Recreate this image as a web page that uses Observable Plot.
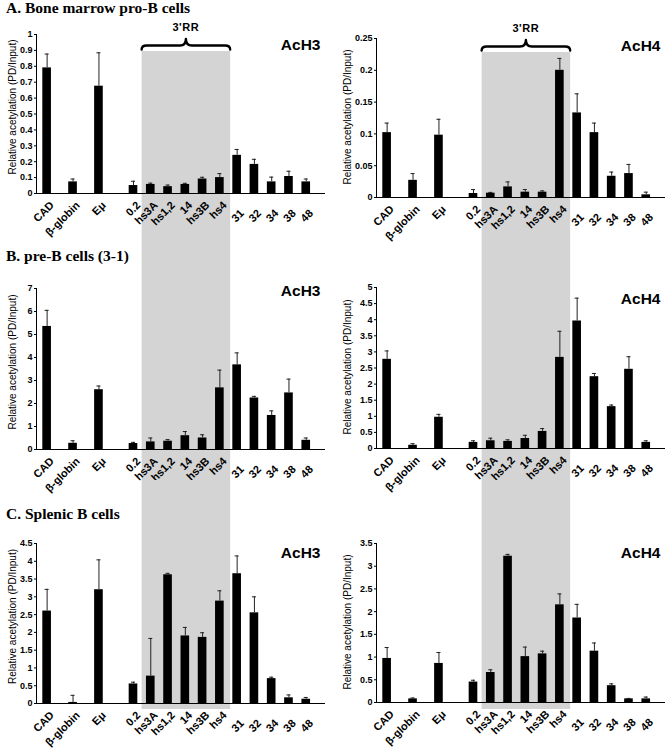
<!DOCTYPE html>
<html>
<head>
<meta charset="utf-8">
<script src="https://cdn.jsdelivr.net/npm/d3@7"></script>
<script src="https://cdn.jsdelivr.net/npm/@observablehq/plot@0.6"></script>
<style>
  body { margin: 0; background: #fff; }
  #fig { position: relative; width: 665px; height: 751px; overflow: hidden; background: #fff; }
  .panel { position: absolute; }
  .title { position: absolute; left: 6px; font: bold 15.5px "Liberation Serif", "Times New Roman", serif; line-height: 1; white-space: nowrap; color: #000; }
</style>
</head>
<body>
<div id="fig"></div>
<script>
// ---------------- data ----------------
const sites = ["CAD", "β-globin", "Eμ", "0.2", "hs3A", "hs1,2", "14", "hs3B", "hs4", "31", "32", "34", "38", "48"];
const rowTitles = ["A. Bone marrow pro-B cells", "B. pre-B cells (3-1)", "C. Splenic B cells"];
const histones = ["AcH3", "AcH4"];
const regionLabel = "3'RR";
const yLabel = "Relative acetylation (PD/Input)";

// bar values and upper ends of the error bars
const proB_AcH3     = [0.79, 0.073, 0.675, 0.05, 0.057, 0.043, 0.057, 0.091, 0.10, 0.24, 0.183, 0.073, 0.107, 0.073];
const proB_AcH3_err = [0.877, 0.091, 0.885, 0.077, 0.065, 0.053, 0.064, 0.102, 0.125, 0.277, 0.215, 0.103, 0.14, 0.091];
const proB_AcH4     = [0.102, 0.027, 0.098, 0.0063, 0.0068, 0.0167, 0.0084, 0.0084, 0.200, 0.133, 0.102, 0.0334, 0.0376, 0.0042];
const proB_AcH4_err = [0.117, 0.0376, 0.123, 0.0125, 0.008, 0.0245, 0.0125, 0.0104, 0.2187, 0.163, 0.117, 0.040, 0.052, 0.0084];
const preB_AcH3     = [5.35, 0.27, 2.6, 0.26, 0.33, 0.36, 0.6, 0.5, 2.68, 3.68, 2.24, 1.48, 2.46, 0.4];
const preB_AcH3_err = [6.05, 0.38, 2.76, 0.31, 0.5, 0.43, 0.78, 0.64, 3.45, 4.2, 2.31, 1.68, 3.06, 0.5];
const preB_AcH4     = [2.77, 0.10, 0.97, 0.19, 0.24, 0.22, 0.31, 0.53, 2.83, 3.96, 2.23, 1.30, 2.46, 0.19];
const preB_AcH4_err = [3.03, 0.15, 1.06, 0.24, 0.32, 0.27, 0.41, 0.62, 3.64, 4.67, 2.33, 1.35, 2.85, 0.24];
const spl_AcH3      = [2.6, 0.03, 3.2, 0.55, 0.77, 3.62, 1.9, 1.86, 2.88, 3.65, 2.55, 0.7, 0.16, 0.12];
const spl_AcH3_err  = [3.21, 0.23, 4.04, 0.6, 1.83, 3.66, 2.14, 1.99, 3.17, 4.15, 3.0, 0.74, 0.24, 0.17];
const spl_AcH4      = [0.97, 0.08, 0.86, 0.45, 0.66, 3.22, 1.01, 1.07, 2.15, 1.86, 1.13, 0.37, 0.08, 0.08];
const spl_AcH4_err  = [1.21, 0.10, 1.10, 0.49, 0.72, 3.26, 1.22, 1.13, 2.39, 2.16, 1.31, 0.41, 0.09, 0.12];

// y tick labels
const ticks_proB_AcH3 = [0, 0.1, 0.2, 0.3, 0.4, 0.5, 0.6, 0.7, 0.8, 0.9, 1];
const ticks_proB_AcH4 = [0, 0.05, 0.1, 0.15, 0.2, 0.25];
const ticks_preB_AcH3 = [0, 1, 2, 3, 4, 5, 6, 7];
const ticks_preB_AcH4 = [0, 0.5, 1, 1.5, 2, 2.5, 3, 3.5, 4, 4.5, 5];
const ticks_spl_AcH3  = [0, 0.5, 1, 1.5, 2, 2.5, 3, 3.5, 4, 4.5];
const ticks_spl_AcH4  = [0, 0.5, 1, 1.5, 2, 2.5, 3, 3.5];

// ---------------- layout ----------------
const L = {
  colLeft: [0, 332], colWidth: [332, 333], marginLeft: [36, 44], marginRight: [7, 0],
  rowTop: [0, 240, 480], rowHeight: [240, 240, 271],
  marginTop: [[34, 38], [48, 47], [63, 63]],
  marginBottom: [[47, 43], [31, 32], [48, 49]],
  grayTop: [[51, 52], [0, 0], [0, 0]],
  grayBottom: [[240, 240], [240, 240], [229, 229]],
  histDy: [[15, 12], [7, 16], [14, 14]],
  yLabelDx: [-24, -29], yLabelDy: [-7, -1],
  titleTop: [0, 248, 505.5]
};
// spacer slots before each site (category axis spacing), plus one trailing
const spacersBefore = [0, 2, 2, 3, 1, 1, 1, 1, 1, 1, 1, 1, 1, 1];
const slots = [];
let gapCount = 0;
sites.forEach((s, i) => {
  for (let j = 0; j < spacersBefore[i]; j++) slots.push(" gap" + (gapCount++));
  slots.push(s);
});
slots.push(" gap" + (gapCount++));
const regionStart = slots[slots.indexOf("hs3A") - 1];
const regionEnd = slots[slots.indexOf("hs4") + 1];

const panels = [
  [[proB_AcH3, proB_AcH3_err, ticks_proB_AcH3], [proB_AcH4, proB_AcH4_err, ticks_proB_AcH4]],
  [[preB_AcH3, preB_AcH3_err, ticks_preB_AcH3], [preB_AcH4, preB_AcH4_err, ticks_preB_AcH4]],
  [[spl_AcH3, spl_AcH3_err, ticks_spl_AcH3], [spl_AcH4, spl_AcH4_err, ticks_spl_AcH4]]
];

const fig = document.getElementById("fig");

function regionMark(top, bottom, withBrace) {
  return (index, scales, values, dimensions) => {
    const x = scales.x;
    const bw = typeof x.bandwidth === "function" ? x.bandwidth() : 0;
    const x1 = x(regionStart) + bw * 0.5;
    const x2 = x(regionEnd) + bw * 0.75;
    const g = d3.create("svg:g");
    g.append("rect").attr("x", x1).attr("y", top).attr("width", x2 - x1).attr("height", bottom - top).attr("fill", "#d4d4d4");
    if (withBrace) {
      const base = top - 5.5, end = top - 1.5, peak = top - 12, mid = (x1 + x2) / 2;
      const p = `M${x1},${end} Q${x1},${base} ${x1 + 5},${base} L${mid - 6},${base} Q${mid},${base} ${mid},${peak} Q${mid},${base} ${mid + 6},${base} L${x2 - 5},${base} Q${x2},${base} ${x2},${end}`;
      g.append("path").attr("d", p).attr("fill", "none").attr("stroke", "#000").attr("stroke-width", 2.4).attr("stroke-linecap", "round").attr("stroke-linejoin", "round");
      g.append("text").attr("x", mid).attr("y", top - 20).attr("text-anchor", "middle")
        .attr("font-size", 11).attr("font-weight", "bold").attr("letter-spacing", 0.6).text(regionLabel);
    }
    return g.node();
  };
}

for (let r = 0; r < 3; r++) {
  for (let c = 0; c < 2; c++) {
    const [vals, errs, ticks] = panels[r][c];
    const rows = sites.map((s, i) => ({site: s, v: vals[i], e: errs[i]}));
    const chart = Plot.plot({
      width: L.colWidth[c],
      height: L.rowHeight[r],
      marginLeft: L.marginLeft[c],
      marginRight: L.marginRight[c],
      marginTop: L.marginTop[r][c],
      marginBottom: L.marginBottom[r][c],
      style: {fontFamily: "'Liberation Sans', Arial, sans-serif", fontSize: "9px", fontWeight: "bold", color: "#000", background: "transparent", overflow: "visible"},
      x: {type: "band", domain: slots, paddingInner: 0, paddingOuter: 0.73, round: false, axis: null},
      y: {domain: [0, d3.max(ticks)]},
      marks: [
        regionMark(L.grayTop[r][c], L.grayBottom[r][c], r === 0),
        Plot.barY(rows, {x: "site", y: "v", fill: "#000"}),
        Plot.ruleX(rows, {x: "site", y1: "v", y2: "e", stroke: "#222", strokeWidth: 1}),
        Plot.tickY(rows, {x: "site", y: "e", stroke: "#222", strokeWidth: 1, insetLeft: 2.3, insetRight: 2.3}),
        Plot.ruleY([0], {stroke: "#000", strokeWidth: 1}),
        Plot.frame({anchor: "left", stroke: "#000"}),
        Plot.axisY({ticks, tickSize: 2, tickPadding: 2, tickFormat: d => String(d), label: null}),
        Plot.text(sites.slice(0, 9), {x: d => d, y: () => 0, text: d => d, rotate: -45, textAnchor: "end", lineAnchor: "middle", dx: 5, dy: 10, fontSize: 11}),
        Plot.text(sites.slice(9), {x: d => d, y: () => 0, text: d => d, rotate: -45, textAnchor: "end", lineAnchor: "middle", dx: 5, dy: 18, fontSize: 11}),
        Plot.text([yLabel], {frameAnchor: "left", text: d => d, rotate: -90, textAnchor: "middle", lineAnchor: "middle", dx: L.yLabelDx[c], dy: L.yLabelDy[c], fontSize: 10, fontWeight: "normal"}),
        Plot.text([histones[c]], {frameAnchor: "top-right", text: d => d, textAnchor: "end", lineAnchor: "bottom", dx: -5, dy: L.histDy[r][c], fontSize: 15.5})
      ]
    });
    const wrap = document.createElement("div");
    wrap.className = "panel";
    wrap.style.left = L.colLeft[c] + "px";
    wrap.style.top = L.rowTop[r] + "px";
    wrap.appendChild(chart);
    fig.appendChild(wrap);
  }
}

rowTitles.forEach((t, r) => {
  const d = document.createElement("div");
  d.className = "title";
  d.style.top = L.titleTop[r] + "px";
  d.textContent = t;
  fig.appendChild(d);
});
</script>
</body>
</html>
